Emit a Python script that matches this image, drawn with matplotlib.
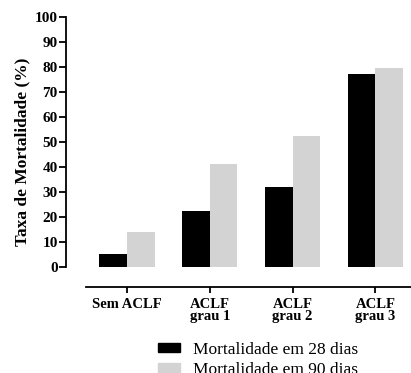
import numpy as np
import matplotlib
matplotlib.use("Agg")
from matplotlib import pyplot as plt
from matplotlib.patches import Patch

# dados
categorias = ["Sem ACLF", "ACLF\ngrau 1", "ACLF\ngrau 2", "ACLF\ngrau 3"]
mort_28 = [5, 22.5, 32, 77]
mort_90 = [14, 41, 52.5, 79.5]
series = ["Mortalidade em 28 dias", "Mortalidade em 90 dias"]

plt.rcParams["font.family"] = ["Liberation Serif", "DejaVu Serif"]

fig = plt.figure(figsize=(4.11, 3.73), dpi=100)
ax = fig.add_axes([66 / 411, (373 - 286.7) / 373, 1 - 66 / 411, (286.7 - 16.7) / 373])

x = np.arange(len(categorias))
w = 0.334
ax.bar(x - w / 2, mort_28, w, color="black")
ax.bar(x + w / 2, mort_90, w, color="#d3d3d3")

ax.set_xlim(-0.737, 3.43)
ax.set_ylim(-7.9, 100)
ax.set_yticks(np.arange(0, 101, 10))
ax.set_xticks(x)
ax.set_xticklabels(categorias, fontweight="bold", fontsize=10.5, linespacing=0.9)

for s in ["top", "right"]:
    ax.spines[s].set_visible(False)
ax.spines["left"].set_bounds(0, 100)
ax.spines["bottom"].set_bounds(-0.49, 3.43)
ax.spines["left"].set_linewidth(1.3)
ax.spines["bottom"].set_linewidth(1.3)
ax.tick_params(axis="y", length=5, width=1.3, pad=1, labelsize=11)
ax.tick_params(axis="x", length=4, width=1.3, pad=4)
for t in ax.get_yticklabels():
    t.set_fontweight("bold")

ax.set_ylabel("Taxa de Mortalidade (%)", fontweight="bold", fontsize=12.5, labelpad=3)

handles = [Patch(color="black"), Patch(color="#d3d3d3")]
fig.legend(handles, series, loc="upper left", bbox_to_anchor=(149 / 411, 1 - 333 / 373),
           frameon=False, fontsize=12.5, handlelength=1.3, handleheight=0.5,
           handletextpad=0.75, labelspacing=0.25, borderpad=0)

fig.savefig("out.png", dpi=100)
